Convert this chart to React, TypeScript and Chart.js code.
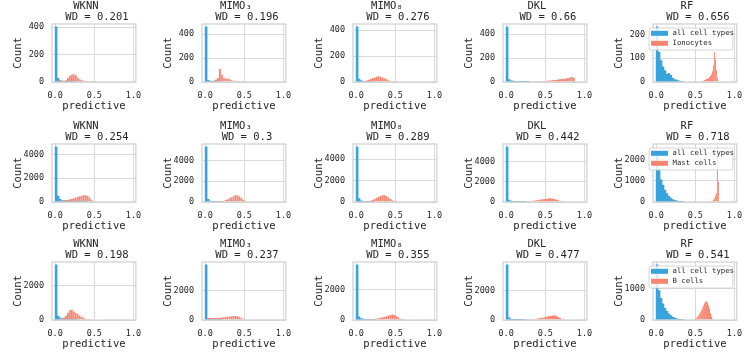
import React, { useEffect, useRef } from 'react';
import { Chart, registerables } from 'chart.js';

Chart.register(...registerables);

// ---------------- data ----------------
const METHODS = ['WKNN', 'MIMO₃', 'MIMO₈', 'DKL', 'RF'];
const CELL_TYPES = ['Ionocytes', 'Mast cells', 'B cells'];
const ALL_LABEL = 'all cell types';
const WD_LABELS = [
  ['0.201', '0.196', '0.276', '0.66', '0.656'],
  ['0.254', '0.3', '0.289', '0.442', '0.718'],
  ['0.198', '0.237', '0.355', '0.477', '0.541'],
];
const X_TICKS = [0, 0.5, 1.0];
const Y_STEPS = [
  [200, 200, 200, 200, 100],
  [2000, 2000, 2000, 2000, 1000],
  [2000, 2000, 2000, 2000, 1000],
];
const BIN_ALL = 0.025;
const TYPE_BINS = [
  [0.025, 0.025, 0.025, 0.025, 0.0125],
  [0.025, 0.025, 0.025, 0.025, 0.0125],
  [0.025, 0.025, 0.025, 0.025, 0.0125],
];

// Ionocytes
const ionoWknnAll = [402, 27, 12, 6, 4, 3, 2, 2, 1, 1];
const ionoWknnType = [4, 8, 10, 10, 9, 12, 28, 45, 55, 57, 48, 30, 20, 14, 10, 7, 5, 4, 3, 2, 1];
const ionoMimo3All = [462, 15, 8, 5, 3, 2, 1];
const ionoMimo3Type = [3, 5, 8, 10, 12, 20, 35, 108, 62, 35, 28, 30, 22, 15, 12, 10, 8, 6, 4, 3, 2];
const ionoMimo8All = [425, 22, 10, 6, 4, 3, 2, 1];
const ionoMimo8Type = [3, 5, 8, 12, 18, 25, 30, 35, 40, 44, 40, 35, 28, 20, 14, 8, 5, 3, 2];
const ionoDklAll = [462, 20, 10, 8, 6, 5, 4, 3, 2, 2, 1, 1];
const ionoDklType = [2, 3, 5, 7, 8, 10, 12, 12, 15, 18, 16, 20, 22, 26, 24, 30, 34, 38, 44, 36];
const ionoRfAll = [232, 125, 90, 64, 48, 32, 36, 28, 15, 10, 8, 5, 3, 2];
const ionoRfType = [2, 3, 4, 5, 6, 8, 10, 12, 14, 16, 20, 25, 32, 45, 70, 125, 95, 50, 18, 5];

// Mast cells
const mastWknnAll = [4650, 500, 220, 150, 120, 100, 90, 80, 70, 60, 50, 40, 30, 20, 15, 10];
const mastWknnType = [60, 100, 120, 130, 150, 180, 220, 270, 320, 370, 420, 480, 530, 570, 580, 520, 400, 200, 60];
const mastMimo3All = [5300, 250, 100, 60, 40, 30, 20, 15, 10];
const mastMimo3Type = [20, 30, 50, 80, 120, 180, 260, 350, 450, 560, 650, 640, 560, 400, 200, 60];
const mastMimo8All = [5170, 320, 120, 70, 50, 35, 25, 15, 10];
const mastMimo8Type = [20, 40, 60, 90, 130, 200, 290, 400, 500, 590, 640, 620, 540, 420, 280, 150, 70, 25];
const mastDklAll = [5430, 200, 80, 50, 35, 25, 20, 15, 10, 8];
const mastDklType = [20, 30, 45, 60, 80, 100, 125, 150, 180, 210, 240, 270, 300, 325, 345, 355, 340, 300, 240, 160, 90, 40, 12];
const mastRfAll = [2200, 1500, 1050, 800, 560, 400, 270, 180, 120, 80, 50, 30, 15, 8];
const mastRfType = [15, 30, 60, 100, 180, 300, 420, 2610, 960, 60];

// B cells
const bWknnAll = [3220, 230, 120, 80, 60, 45, 35, 25, 20, 15, 10];
const bWknnType = [80, 100, 140, 250, 420, 560, 590, 500, 420, 340, 260, 190, 130, 80, 40, 15, 5];
const bMimo3All = [3790, 100, 60, 40, 30, 25, 20, 15, 10];
const bMimo3Type = [150, 140, 135, 130, 135, 145, 160, 175, 190, 205, 220, 235, 250, 265, 270, 255, 220, 160, 90, 30];
const bMimo8All = [3600, 200, 90, 60, 45, 35, 25, 18, 12, 8];
const bMimo8Type = [30, 40, 50, 65, 80, 100, 120, 145, 175, 210, 250, 290, 330, 350, 320, 250, 170, 90, 40, 15];
const bDklAll = [3780, 150, 70, 45, 30, 25, 20, 15, 10, 8];
const bDklType = [15, 20, 30, 40, 55, 70, 90, 110, 135, 160, 190, 220, 250, 275, 300, 315, 290, 220, 130, 50, 15];
const bRfAll = [1780, 950, 700, 520, 380, 280, 200, 140, 95, 60, 35, 20, 10, 5];
const bRfType = [10, 20, 35, 55, 80, 110, 150, 200, 260, 330, 400, 470, 540, 590, 600, 560, 470, 350, 220, 110, 40, 10];

// left edge of first bin of each cell-type histogram
const TYPE_STARTS = [
  [0, 0, 0.05, 0.375, 0.55],
  [0.025, 0.125, 0.075, 0.175, 0.6875],
  [0.05, 0.025, 0.125, 0.225, 0.4625],
];
const ALL_COUNTS = [
  [ionoWknnAll, ionoMimo3All, ionoMimo8All, ionoDklAll, ionoRfAll],
  [mastWknnAll, mastMimo3All, mastMimo8All, mastDklAll, mastRfAll],
  [bWknnAll, bMimo3All, bMimo8All, bDklAll, bRfAll],
];
const TYPE_COUNTS = [
  [ionoWknnType, ionoMimo3Type, ionoMimo8Type, ionoDklType, ionoRfType],
  [mastWknnType, mastMimo3Type, mastMimo8Type, mastDklType, mastRfType],
  [bWknnType, bMimo3Type, bMimo8Type, bDklType, bRfType],
];

// ---------------- style / layout ----------------
const FONT = '"DejaVu Sans Mono", monospace';
const TEXT = '#262626';
const GRID = '#dadada';
const EDGE = '#d0d0d0';
const BLUE = 'rgb(56, 164, 222)';
const RED = 'rgb(250, 132, 112)';
const COL_X = [0, 150, 301, 451, 601];
const ROW_Y = [0, 120, 238];
const CW = 150;
const CH = 116;
const Y_AXIS_W = 52;
const PAD_RIGHT = 12;
const PAD_TOP = 24;
const X_AXIS_H = 34;
const X_MIN = -0.04;
const X_MAX = 1.03;

const framePlugin = {
  id: 'frame',
  afterDatasetsDraw(chart: any) {
    const { ctx, chartArea: a } = chart;
    ctx.save();
    ctx.strokeStyle = EDGE;
    ctx.lineWidth = 1.2;
    ctx.strokeRect(a.left, a.top, a.right - a.left, a.bottom - a.top);
    ctx.restore();
  },
};

const titlePlugin = {
  id: 'panelTitle',
  afterDraw(chart: any, _args: any, opts: any) {
    const { ctx, chartArea: a } = chart;
    const cx = (a.left + a.right) / 2;
    ctx.save();
    ctx.fillStyle = TEXT;
    ctx.font = `10.5px ${FONT}`;
    ctx.textAlign = 'center';
    ctx.textBaseline = 'middle';
    ctx.fillText(opts.line1, cx - 8, a.top - 18);
    ctx.fillText(opts.line2, cx + 3, a.top - 7);
    ctx.restore();
  },
};

const legendPlugin = {
  id: 'boxLegend',
  afterDraw(chart: any, _args: any, opts: any) {
    if (!opts.show) return;
    const { ctx, chartArea: a } = chart;
    const x0 = a.left - 4;
    const x1 = a.right - 4;
    const y0 = a.top + 4;
    const y1 = a.top + 26;
    ctx.save();
    ctx.fillStyle = 'rgba(255,255,255,0.8)';
    ctx.strokeStyle = '#cccccc';
    ctx.lineWidth = 0.8;
    ctx.beginPath();
    if (ctx.roundRect) ctx.roundRect(x0, y0, x1 - x0, y1 - y0, 2);
    else ctx.rect(x0, y0, x1 - x0, y1 - y0);
    ctx.fill();
    ctx.stroke();
    ctx.font = `7.3px ${FONT}`;
    ctx.textAlign = 'left';
    ctx.textBaseline = 'middle';
    chart.data.datasets.forEach((ds: any, i: number) => {
      const cy = a.top + 9.3 + i * 10;
      ctx.fillStyle = ds.backgroundColor;
      ctx.fillRect(a.left - 2, cy - 2.5, 17, 5);
      ctx.fillStyle = TEXT;
      ctx.fillText(ds.label, a.left + 19.5, cy);
    });
    ctx.restore();
  },
};

function Panel({ r, c }: { r: number; c: number }) {
  const ref = useRef<HTMLCanvasElement | null>(null);
  useEffect(() => {
    const all = ALL_COUNTS[r][c];
    const typ = TYPE_COUNTS[r][c];
    const start = TYPE_STARTS[r][c];
    const bin = TYPE_BINS[r][c];
    const allPts = all.map((y, i) => ({ x: (i + 0.5) * BIN_ALL, y }));
    const typePts = typ.map((y, i) => ({ x: start + (i + 0.5) * bin, y }));
    const ymax = Math.max(...all, ...typ) * 1.05;
    const step = Y_STEPS[r][c];
    const yTicks: number[] = [];
    for (let v = 0; v <= ymax; v += step) yTicks.push(v);

    const tickFont = { family: FONT, size: 8.5 };
    const labelFont = { family: FONT, size: 10.5 };

    const chart = new Chart(ref.current as HTMLCanvasElement, {
      type: 'bar',
      data: {
        datasets: [
          {
            label: ALL_LABEL,
            data: allPts,
            xAxisID: 'x',
            backgroundColor: BLUE,
            order: 1,
          },
          {
            label: CELL_TYPES[r],
            data: typePts,
            xAxisID: 'x2',
            backgroundColor: RED,
            borderColor: 'rgba(255,255,255,0.35)',
            borderWidth: 0.3,
            order: 0,
          },
        ],
      } as any,
      options: {
        animation: false,
        responsive: false,
        maintainAspectRatio: false,
        devicePixelRatio: 1,
        events: [],
        layout: { padding: { left: 0, right: PAD_RIGHT, top: PAD_TOP, bottom: 0 } },
        datasets: {
          bar: {
            barPercentage: 1,
            categoryPercentage: 1,
            grouped: false,
          },
        },
        plugins: {
          legend: { display: false },
          tooltip: { enabled: false },
          title: { display: false },
          panelTitle: { line1: METHODS[c], line2: `WD = ${WD_LABELS[r][c]}` },
          boxLegend: { show: c === 4 },
        } as any,
        scales: {
          x: {
            type: 'linear',
            position: 'bottom',
            min: X_MIN,
            max: X_MAX,
            offset: false,
            afterBuildTicks: (s: any) => {
              s.ticks = X_TICKS.map((v) => ({ value: v }));
            },
            afterFit: (s: any) => {
              s.height = X_AXIS_H;
            },
            grid: { offset: false, color: GRID, lineWidth: 1, drawTicks: false },
            border: { display: false },
            ticks: {
              font: tickFont,
              color: TEXT,
              padding: 8.5,
              maxRotation: 0,
              autoSkip: false,
              callback: (v: any) => Number(v).toFixed(1),
            },
            title: {
              display: true,
              text: 'predictive',
              font: labelFont,
              color: TEXT,
              padding: { top: 0, bottom: 3.7 },
            },
          },
          x2: {
            type: 'linear',
            display: false,
            min: X_MIN,
            max: X_MAX,
            offset: false,
            grid: { offset: false },
          },
          y: {
            type: 'linear',
            min: 0,
            max: ymax,
            afterBuildTicks: (s: any) => {
              s.ticks = yTicks.map((v) => ({ value: v }));
            },
            afterFit: (s: any) => {
              s.width = Y_AXIS_W;
            },
            grid: { color: GRID, lineWidth: 1, drawTicks: false },
            border: { display: false },
            ticks: {
              font: tickFont,
              color: TEXT,
              padding: 8,
              autoSkip: false,
              callback: (v: any) => String(v),
            },
            title: {
              display: true,
              text: 'Count',
              font: labelFont,
              color: TEXT,
              padding: { top: 11.7, bottom: 0 },
            },
          },
        } as any,
      },
      plugins: [framePlugin, titlePlugin, legendPlugin],
    } as any);
    return () => chart.destroy();
  }, [r, c]);

  return (
    <canvas
      ref={ref}
      width={CW}
      height={CH}
      style={{ position: 'absolute', left: COL_X[c], top: ROW_Y[r], width: CW, height: CH }}
    />
  );
}

export default function App() {
  const cells: JSX.Element[] = [];
  for (let r = 0; r < 3; r++) {
    for (let c = 0; c < 5; c++) {
      cells.push(<Panel key={`${r}-${c}`} r={r} c={c} />);
    }
  }
  return (
    <div
      style={{
        position: 'fixed',
        left: 0,
        top: 0,
        width: 748,
        height: 353,
        background: '#ffffff',
        overflow: 'hidden',
      }}
    >
      {cells}
    </div>
  );
}
